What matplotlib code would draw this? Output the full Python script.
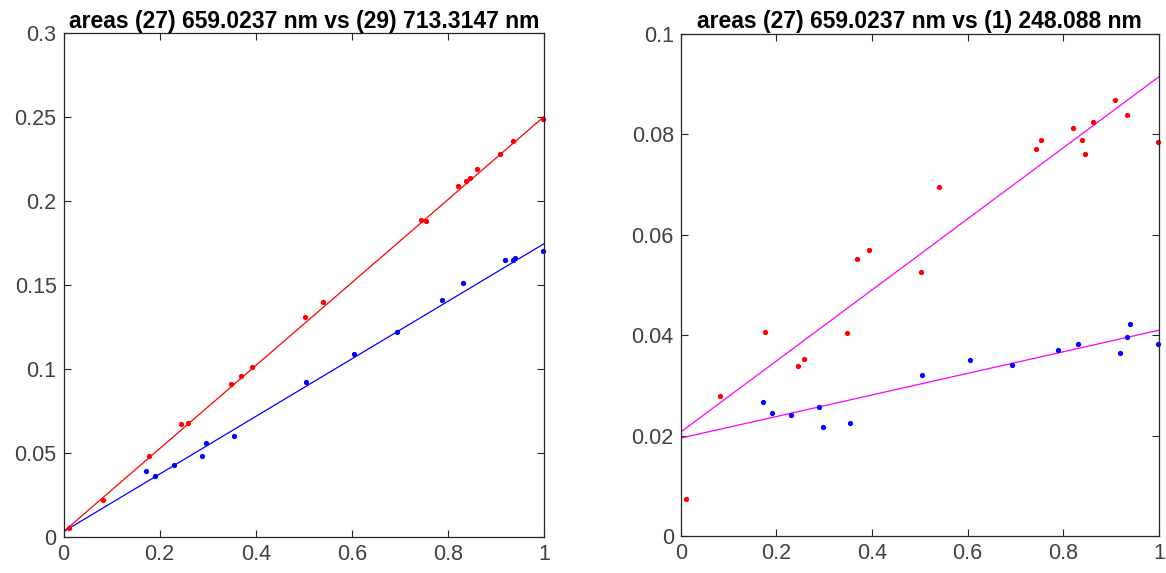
import numpy as np
import matplotlib
matplotlib.use("Agg")
import matplotlib.pyplot as plt

plt.rcParams['font.family'] = ['Liberation Sans', 'DejaVu Sans']

# ---- data ----
red_x = [0.011, 0.083, 0.177, 0.245, 0.258, 0.348, 0.369, 0.393, 0.503, 0.539,
         0.743, 0.753, 0.820, 0.838, 0.845, 0.861, 0.908, 0.934, 0.998]
left_red_y = [0.005, 0.022, 0.048, 0.067, 0.068, 0.091, 0.096, 0.101, 0.131, 0.140,
              0.189, 0.188, 0.209, 0.212, 0.214, 0.219, 0.228, 0.236, 0.249]
right_red_y = [0.0074, 0.0278, 0.0406, 0.0338, 0.0352, 0.0404, 0.0552, 0.0570, 0.0525, 0.0695,
               0.0771, 0.0788, 0.0812, 0.0788, 0.0760, 0.0825, 0.0869, 0.0839, 0.0784]

blue_x = [0.172, 0.191, 0.230, 0.289, 0.297, 0.354, 0.505, 0.604, 0.693, 0.788,
          0.830, 0.919, 0.934, 0.940, 0.998]
left_blue_y = [0.039, 0.036, 0.043, 0.048, 0.056, 0.060, 0.092, 0.109, 0.122, 0.141,
               0.151, 0.165, 0.165, 0.166, 0.170]
right_blue_y = [0.0266, 0.0245, 0.0242, 0.0257, 0.0217, 0.0225, 0.0321, 0.0351, 0.0341, 0.0371,
                0.0383, 0.0365, 0.0396, 0.0423, 0.0382]

# fit lines: (intercept, slope)
left_red_fit = (0.0030, 0.2475)
left_blue_fit = (0.0030, 0.1717)
right_red_fit = (0.0207, 0.0708)
right_blue_fit = (0.0195, 0.0215)

titles = ["areas (27) 659.0237 nm vs (29) 713.3147 nm",
          "areas (27) 659.0237 nm vs (1) 248.088 nm"]
xticks = [0, 0.2, 0.4, 0.6, 0.8, 1]
xticklabels = ["0", "0.2", "0.4", "0.6", "0.8", "1"]
left_yticks = [0, 0.05, 0.1, 0.15, 0.2, 0.25, 0.3]
left_yticklabels = ["0", "0.05", "0.1", "0.15", "0.2", "0.25", "0.3"]
right_yticks = [0, 0.02, 0.04, 0.06, 0.08, 0.1]
right_yticklabels = ["0", "0.02", "0.04", "0.06", "0.08", "0.1"]

W, H = 1166, 573
fig = plt.figure(figsize=(W / 100, H / 100), dpi=100)
axL = fig.add_axes([63.5 / W, 1 - 536.7 / H, (544.3 - 63.5) / W, (536.7 - 33.3) / H])
axR = fig.add_axes([680.7 / W, 1 - 536 / H, (1159 - 680.7) / W, (536 - 34) / H])

gray = '#262626'
labgray = '#404040'
fx = np.array([0.0, 1.0])

def style(ax, yticks, yticklabels, ylim, title):
    ax.set_xlim(0, 1)
    ax.set_ylim(*ylim)
    ax.set_xticks(xticks)
    ax.set_xticklabels(xticklabels)
    ax.set_yticks(yticks)
    ax.set_yticklabels(yticklabels)
    ax.tick_params(direction='in', length=5, width=0.8, color=gray, labelcolor=labgray,
                   labelsize=15.5, top=True, right=True, pad=5)
    for s in ax.spines.values():
        s.set_color(gray)
        s.set_linewidth(0.9)
    ax.set_title(title, fontsize=16.5, fontweight='bold', color='black', pad=4)

# left
axL.plot(fx, left_red_fit[0] + left_red_fit[1] * fx, color=(1, 0, 0), lw=0.9)
axL.plot(fx, left_blue_fit[0] + left_blue_fit[1] * fx, color=(0, 0, 1), lw=0.9)
axL.plot(red_x, left_red_y, 'o', color=(1, 0, 0), ms=3.8, mew=0, clip_on=False)
axL.plot(blue_x, left_blue_y, 'o', color=(0, 0, 1), ms=3.8, mew=0, clip_on=False)
style(axL, left_yticks, left_yticklabels, (0, 0.3), titles[0])

# right
axR.plot(fx, right_red_fit[0] + right_red_fit[1] * fx, color=(1, 0, 1), lw=0.9)
axR.plot(fx, right_blue_fit[0] + right_blue_fit[1] * fx, color=(1, 0, 1), lw=0.9)
axR.plot(red_x, right_red_y, 'o', color=(1, 0, 0), ms=3.8, mew=0, clip_on=False)
axR.plot(blue_x, right_blue_y, 'o', color=(0, 0, 1), ms=3.8, mew=0, clip_on=False)
style(axR, right_yticks, right_yticklabels, (0, 0.1), titles[1])

fig.savefig("out.png", dpi=100)
